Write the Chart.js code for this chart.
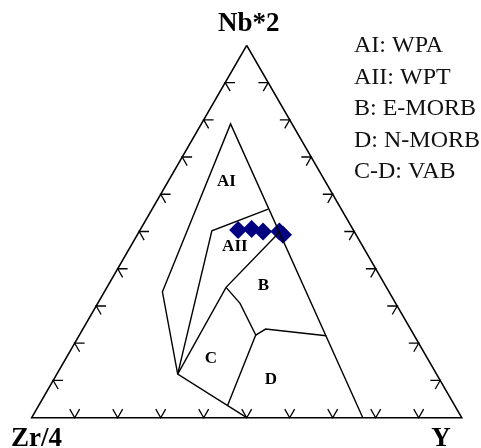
<!DOCTYPE html>
<html>
<head>
<meta charset="utf-8">
<script src="https://cdn.jsdelivr.net/npm/chart.js@4.4.0/dist/chart.umd.min.js"></script>
<style>
    html, body { margin: 0; padding: 0; background: #fff; }
    #wrap { position: relative; width: 481px; height: 448px; }
</style>
</head>
<body>
<div id="wrap"><canvas id="myChart"></canvas></div>
<script>
// すべての組成は [Nb*2, Zr/4, Y] (%)
const apexNames = ['Nb*2', 'Zr/4', 'Y'];
const tickFractions = [0.1, 0.2, 0.3, 0.4, 0.5, 0.6, 0.7, 0.8, 0.9];

// Meschede (1986) の境界線
const lineOuterA = [[0, 23, 77], [78.9, 14.3, 6.8], [33.8, 52.7, 13.5], [11.7, 60.2, 28.1], [0, 50, 50]];
const lineTopAII = [[56.0, 17.0, 27.0], [50.2, 33.0, 16.8], [11.7, 60.2, 28.1]];
const lineAIIB = [[49.8, 17.5, 32.7], [35.0, 37.3, 27.7], [11.7, 60.2, 28.1]];
const lineBC = [[35.0, 37.3, 27.7], [30.7, 36.2, 33.1], [22.2, 36.8, 41.0], [3.3, 52.8, 43.9]];
const lineBD = [[22.2, 36.8, 41.0], [23.8, 33.7, 42.5], [22.0, 20.5, 57.5]];

// 試料
const samples = [[50.4, 26.8, 22.8], [50.7, 23.5, 25.8], [50.0, 21.2, 28.8], [50.0, 17.4, 32.6], [49.1, 17.0, 33.9]];

// 領域ラベル
const fieldNames = ['AI', 'AII', 'B', 'C', 'D'];
const fieldPos = [[63.4, 23.0, 13.6], [45.9, 29.8, 24.3], [35.6, 28.3, 36.1], [16.0, 50.3, 33.7], [10.9, 41.3, 53.2]];

const legendLines = ['AI: WPA', 'AII: WPT', 'B: E-MORB', 'D: N-MORB', 'C-D: VAB'];

const H = Math.sqrt(3) / 2;

// 三角座標 -> 直交座標
function toXY(c) {
    const s = c[0] + c[1] + c[2];
    const nb = c[0] / s, y = c[2] / s;
    return { x: y + nb / 2, y: nb * H };
}

function lineSet(arr, width) {
    return {
        type: 'scatter',
        data: arr.map(toXY),
        showLine: true,
        borderColor: '#000',
        borderWidth: width || 1.4,
        pointRadius: 0,
        fill: false,
        tension: 0,
        clip: false
    };
}

// 目盛り（山形）
const tickData = [];
const L = 0.023;
function chevron(px, py, a1, a2) {
    const r = Math.PI / 180;
    tickData.push({ x: px + L * Math.cos(a1 * r), y: py + L * Math.sin(a1 * r) });
    tickData.push({ x: px, y: py });
    tickData.push({ x: px + L * Math.cos(a2 * r), y: py + L * Math.sin(a2 * r) });
    tickData.push({ x: px, y: null });
}
tickFractions.forEach(f => {
    chevron(f, 0, 60, 120);                 // 底辺
    chevron(0.5 * f, H * f, 0, -60);        // 左辺
    chevron(1 - 0.5 * f, H * f, 180, 240);  // 右辺
});

const textPlugin = {
    id: 'ternaryText',
    afterDraw(chart) {
        const ctx = chart.ctx;
        const sx = chart.scales.x, sy = chart.scales.y;
        ctx.save();
        ctx.fillStyle = '#000';
        ctx.textAlign = 'center';
        ctx.textBaseline = 'middle';
        ctx.font = 'bold 17px "Liberation Serif"';
        fieldNames.forEach((n, i) => {
            const p = toXY(fieldPos[i]);
            ctx.fillText(n, sx.getPixelForValue(p.x), sy.getPixelForValue(p.y));
        });

        ctx.font = 'bold 27px "Liberation Serif"';
        ctx.textBaseline = 'alphabetic';
        ctx.fillText(apexNames[0], sx.getPixelForValue(0.5) + 2, 31);
        ctx.textAlign = 'left';
        ctx.fillText(apexNames[1], 11, 446);
        ctx.textAlign = 'center';
        ctx.fillText(apexNames[2], 441, 446);

        ctx.textAlign = 'left';
        ctx.font = '24px "Liberation Serif"';
        ctx.fillStyle = '#111';
        legendLines.forEach((t, i) => {
            ctx.fillText(t, 354, 52 + i * 31.6);
        });
        ctx.restore();
    }
};

let myChart;
function renderChart() {
    const ctx = document.getElementById('myChart').getContext('2d');
    if (myChart) myChart.destroy();

    const datasets = [
        lineSet([[100, 0, 0], [0, 100, 0], [0, 0, 100], [100, 0, 0]], 1.6),
        lineSet(lineOuterA),
        lineSet(lineTopAII),
        lineSet(lineAIIB),
        lineSet(lineBC),
        lineSet(lineBD),
        {
            type: 'scatter',
            data: tickData,
            showLine: true,
            spanGaps: false,
            borderColor: '#000',
            borderWidth: 1.3,
            pointRadius: 0,
            clip: false
        },
        {
            type: 'scatter',
            data: samples.map(toXY),
            pointStyle: 'rectRot',
            pointRadius: 9,
            backgroundColor: '#000080',
            borderColor: '#000080',
            borderWidth: 0,
            clip: false
        }
    ];

    myChart = new Chart(ctx, {
        type: 'scatter',
        data: { datasets },
        options: {
            responsive: true,
            maintainAspectRatio: false,
            animation: false,
            layout: { padding: { left: 31.7, right: 19.3, top: 45.3, bottom: 30.3 } },
            plugins: { legend: { display: false }, tooltip: { enabled: false } },
            scales: {
                x: { type: 'linear', min: 0, max: 1, display: false },
                y: { type: 'linear', min: 0, max: H, display: false }
            }
        },
        plugins: [textPlugin]
    });
}

renderChart();
</script>
</body>
</html>
